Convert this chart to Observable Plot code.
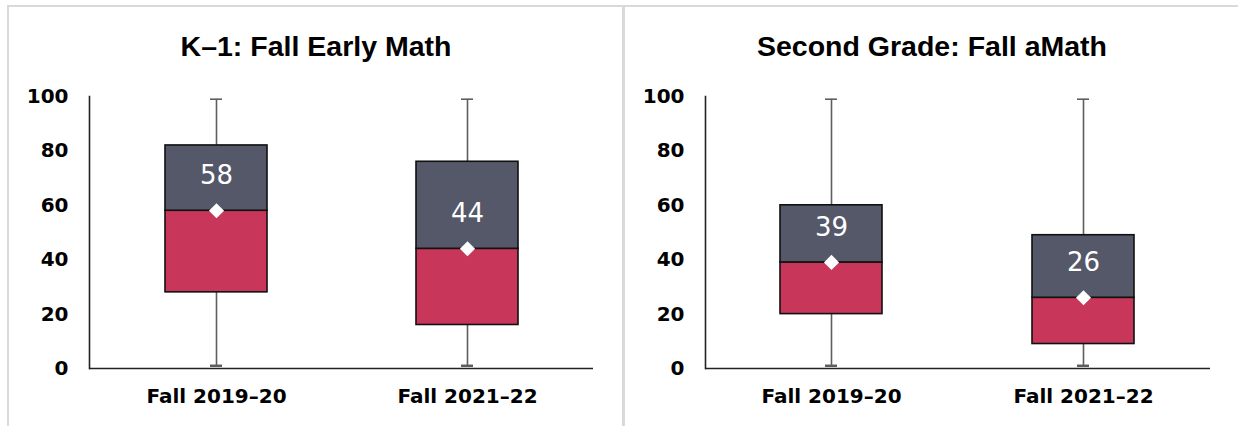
<!DOCTYPE html>
<html>
<head>
<meta charset="utf-8">
<script src="https://cdn.jsdelivr.net/npm/d3@7"></script>
<script src="https://cdn.jsdelivr.net/npm/@observablehq/plot@0.6"></script>
<style>
  html, body { margin: 0; padding: 0; background: #fff; }
  #page { position: relative; width: 1238px; height: 426px; overflow: hidden; background: #fff; }
  .panel { position: absolute; top: 5px; height: 430px; border-top: 2px solid #d9d9d9; border-left: 2px solid #d9d9d9; box-sizing: border-box; }
  .title { position: absolute; top: 29px; transform: translateX(-50%); white-space: nowrap;
           font-family: "Liberation Sans", Arial, sans-serif;
           font-weight: bold; font-size: 28.5px; line-height: 34px; color: #000; }
  .plot { position: absolute; top: 0; }
</style>
</head>
<body>
<div id="page">
  <div class="panel" style="left:7px; width:620px;"></div>
  <div class="panel" style="left:622px; width:620px; border-left:3px solid #d9d9d9;"></div>
  <div class="title" style="left:316px;">K–1: Fall Early Math</div>
  <div class="title" style="left:932px;">Second Grade: Fall aMath</div>
  <div class="plot" id="p1" style="left:0px;"></div>
  <div class="plot" id="p2" style="left:615px;"></div>
</div>
<script>
// ---- Data ----
const periods = ["Fall 2019–20", "Fall 2021–22"];
const yTicks = [0, 20, 40, 60, 80, 100];

// K–1: Fall Early Math
const k1Min    = [1, 1];
const k1Q1     = [28, 16];
const k1Median = [58, 44];
const k1Q3     = [82, 76];
const k1Max    = [99, 99];

// Second Grade: Fall aMath
const g2Min    = [1, 1];
const g2Q1     = [20, 9];
const g2Median = [39, 26];
const g2Q3     = [60, 49];
const g2Max    = [99, 99];

function rows(mins, q1s, meds, q3s, maxs) {
  return periods.map((p, i) => ({period: p, min: mins[i], q1: q1s[i], median: meds[i], q3: q3s[i], max: maxs[i]}));
}

const colLow = "#c8365a";
const colHigh = "#545869";
const whisker = "#5e5e5e";

function boxChart(data, width, marginLeft, marginRight) {
  return Plot.plot({
    width, height: 426,
    marginTop: 96, marginBottom: 58, marginLeft, marginRight,
    style: {fontFamily: "DejaVu Sans", fontSize: "20px", background: "transparent", overflow: "visible", color: "#000"},
    x: {domain: periods, paddingInner: 0.595, paddingOuter: 0.2976, label: null},
    y: {domain: [0, 100], label: null},
    marks: [
      Plot.axisY({ticks: yTicks, tickSize: 0, tickPadding: 21, fontSize: 20, fontWeight: "bold", label: null, fill: "#000"}),
      Plot.axisX({tickSize: 0, tickPadding: 20, label: null, fontSize: 20, fontWeight: "bold", fill: "#000"}),
      Plot.ruleX(data, {x: "period", y1: "min", y2: "max", stroke: whisker, strokeWidth: 1.6}),
      Plot.tickY(data, {x: "period", y: "max", stroke: whisker, strokeWidth: 1.6, insetLeft: 45, insetRight: 45}),
      Plot.tickY(data, {x: "period", y: "min", stroke: whisker, strokeWidth: 2.5, insetLeft: 45, insetRight: 45}),
      Plot.barY(data, {x: "period", y1: "q1", y2: "median", fill: colLow, stroke: "#111", strokeWidth: 1.6}),
      Plot.barY(data, {x: "period", y1: "median", y2: "q3", fill: colHigh, stroke: "#111", strokeWidth: 1.6}),
      Plot.frame({anchor: "left", stroke: "#222", strokeWidth: 1.6}),
      Plot.ruleY([0], {stroke: "#222", strokeWidth: 1.6}),
      Plot.dot(data, {x: "period", y: "median", symbol: "diamond2", r: 6.8, fill: "#fff", stroke: "none"}),
      Plot.text(data, {x: "period", y: "median", text: d => String(d.median), dy: -35,
                       fill: "#fff", fontSize: 26, fontFamily: "DejaVu Sans"})
    ]
  });
}

document.getElementById("p1").appendChild(boxChart(rows(k1Min, k1Q1, k1Median, k1Q3, k1Max), 615, 89, 22));
document.getElementById("p2").appendChild(boxChart(rows(g2Min, g2Q1, g2Median, g2Q3, g2Max), 623, 90, 28));
</script>
</body>
</html>
